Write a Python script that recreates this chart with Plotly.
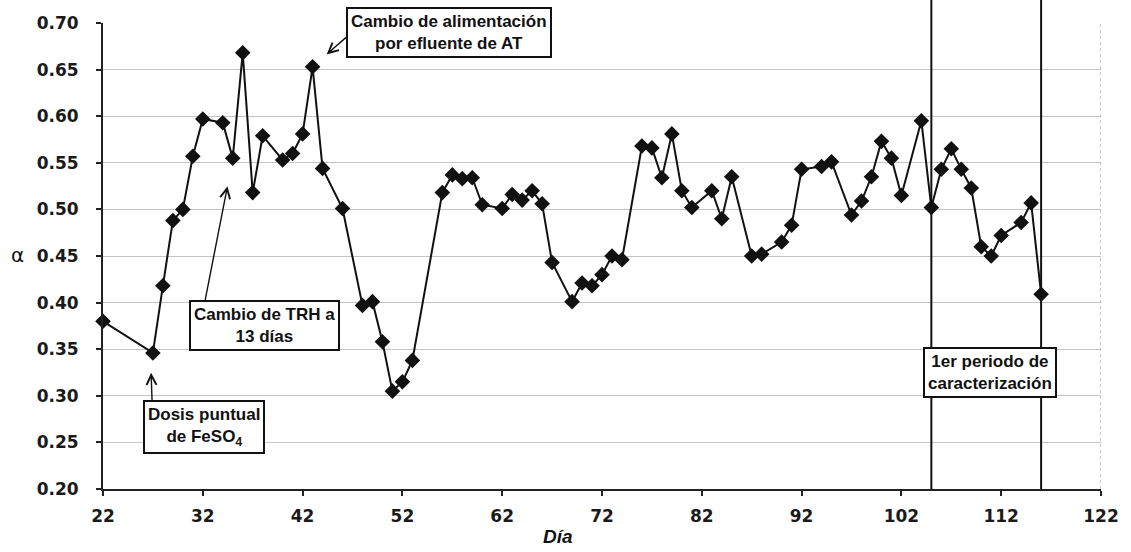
import plotly.graph_objects as go

# Day of operation and alpha measured on that day
dias = [22, 27, 28, 29, 30, 31, 32, 34, 35, 36, 37, 38, 40, 41, 42, 43, 44, 46,
        48, 49, 50, 51, 52, 53, 56, 57, 58, 59, 60, 62, 63, 64, 65, 66, 67, 69,
        70, 71, 72, 73, 74, 76, 77, 78, 79, 80, 81, 83, 84, 85, 87, 88, 90, 91,
        92, 94, 95, 97, 98, 99, 100, 101, 102, 104, 105, 106, 107, 108, 109, 110,
        111, 112, 114, 115, 116]
alfa = [0.380, 0.346, 0.418, 0.488, 0.500, 0.557, 0.597, 0.593, 0.555, 0.668,
        0.518, 0.579, 0.553, 0.560, 0.581, 0.653, 0.544, 0.501, 0.397, 0.401,
        0.358, 0.305, 0.315, 0.338, 0.518, 0.537, 0.533, 0.534, 0.505, 0.501,
        0.516, 0.510, 0.520, 0.506, 0.443, 0.401, 0.421, 0.418, 0.430, 0.450,
        0.446, 0.568, 0.566, 0.534, 0.581, 0.520, 0.502, 0.520, 0.490, 0.535,
        0.450, 0.452, 0.465, 0.483, 0.543, 0.546, 0.551, 0.494, 0.509, 0.535,
        0.573, 0.555, 0.515, 0.595, 0.502, 0.543, 0.565, 0.543, 0.523, 0.460,
        0.450, 0.472, 0.486, 0.507, 0.409]

x_ticks = [22, 32, 42, 52, 62, 72, 82, 92, 102, 112, 122]
y_ticks = [0.20, 0.25, 0.30, 0.35, 0.40, 0.45, 0.50, 0.55, 0.60, 0.65, 0.70]

# Start and end of the first characterisation period
periodo = [105, 116]

TICK_FONT = dict(family="DejaVu Sans", size=17, color="#1a1a1a", weight="bold")
NOTE_FONT = dict(family="Liberation Sans", size=17, color="#111111", weight="bold")

fig = go.Figure()
fig.add_trace(go.Scatter(
    x=dias, y=alfa, mode="lines+markers",
    line=dict(color="#111111", width=2),
    marker=dict(symbol="diamond", size=12, color="#111111"),
    cliponaxis=False, showlegend=False,
))

shapes = []
for d in periodo:
    shapes.append(dict(type="line", xref="x", yref="paper", x0=d, x1=d,
                       y0=0, y1=1.06, line=dict(color="#111111", width=2)))
# faint right edge of the plotting area
shapes.append(dict(type="line", xref="x", yref="paper", x0=122, x1=122,
                   y0=0, y1=1, line=dict(color="#9a9a9a", width=1.2, dash="dot")))

annotations = []

def caja(texto, x, y):
    annotations.append(dict(
        text=texto, x=x, y=y, xref="x", yref="y", showarrow=False,
        xanchor="center", yanchor="middle", align="center",
        font=NOTE_FONT, bgcolor="white", bordercolor="#111111",
        borderwidth=2, borderpad=3,
    ))

def flecha(x_cola, y_cola, x_punta, y_punta):
    annotations.append(dict(
        text="", x=x_punta, y=y_punta, ax=x_cola, ay=y_cola,
        xref="x", yref="y", axref="x", ayref="y",
        showarrow=True, arrowhead=5, arrowsize=1.4, arrowwidth=1.4,
        arrowcolor="#111111", standoff=0, startstandoff=0,
    ))

flecha(26.92, 0.2935, 26.82, 0.3246)
flecha(32.21, 0.4012, 34.47, 0.5248)
flecha(46.51, 0.686, 44.41, 0.6663)

caja("Dosis puntual<br>de FeSO<sub>4</sub>", 32.16, 0.2666)
caja("Cambio de TRH a<br>13 días", 38.15, 0.3757)
caja("Cambio de alimentación<br>por efluente de AT", 56.71, 0.6894)
caja("1er periodo de<br>caracterización", 110.85, 0.3246)

# axis titles
annotations.append(dict(text="Día", xref="paper", yref="paper", x=0.456, y=-0.103,
                        xanchor="center", yanchor="middle", showarrow=False,
                        font=dict(family="Liberation Sans", size=19, color="#111111",
                                  weight="bold", style="italic")))
annotations.append(dict(text="α", xref="paper", yref="paper", x=-0.086, y=0.503,
                        xanchor="center", yanchor="middle", showarrow=False,
                        font=dict(family="DejaVu Sans", size=20, color="#111111")))

fig.update_layout(
    width=1131, height=552,
    margin=dict(l=103, r=27, t=23, b=63),
    paper_bgcolor="white", plot_bgcolor="white",
    shapes=shapes, annotations=annotations,
    xaxis=dict(range=[22, 122], tickvals=x_ticks, ticktext=[str(v) for v in x_ticks],
               showgrid=False, zeroline=False, showline=True,
               linecolor="#222222", linewidth=2, ticks="outside", ticklen=5,
               tickwidth=1.5, tickcolor="#222222", tickfont=TICK_FONT,
               ticklabelstandoff=6),
    yaxis=dict(range=[0.20, 0.70], tickvals=y_ticks,
               ticktext=[f"{v:.2f}" for v in y_ticks],
               showgrid=True, gridcolor="#c4c4c4", gridwidth=1,
               zeroline=False, showline=True, linecolor="#222222", linewidth=2,
               ticks="outside", ticklen=5, tickwidth=1.5, tickcolor="#222222",
               tickfont=TICK_FONT, ticklabelstandoff=14),
)

fig.write_html("out.html")
